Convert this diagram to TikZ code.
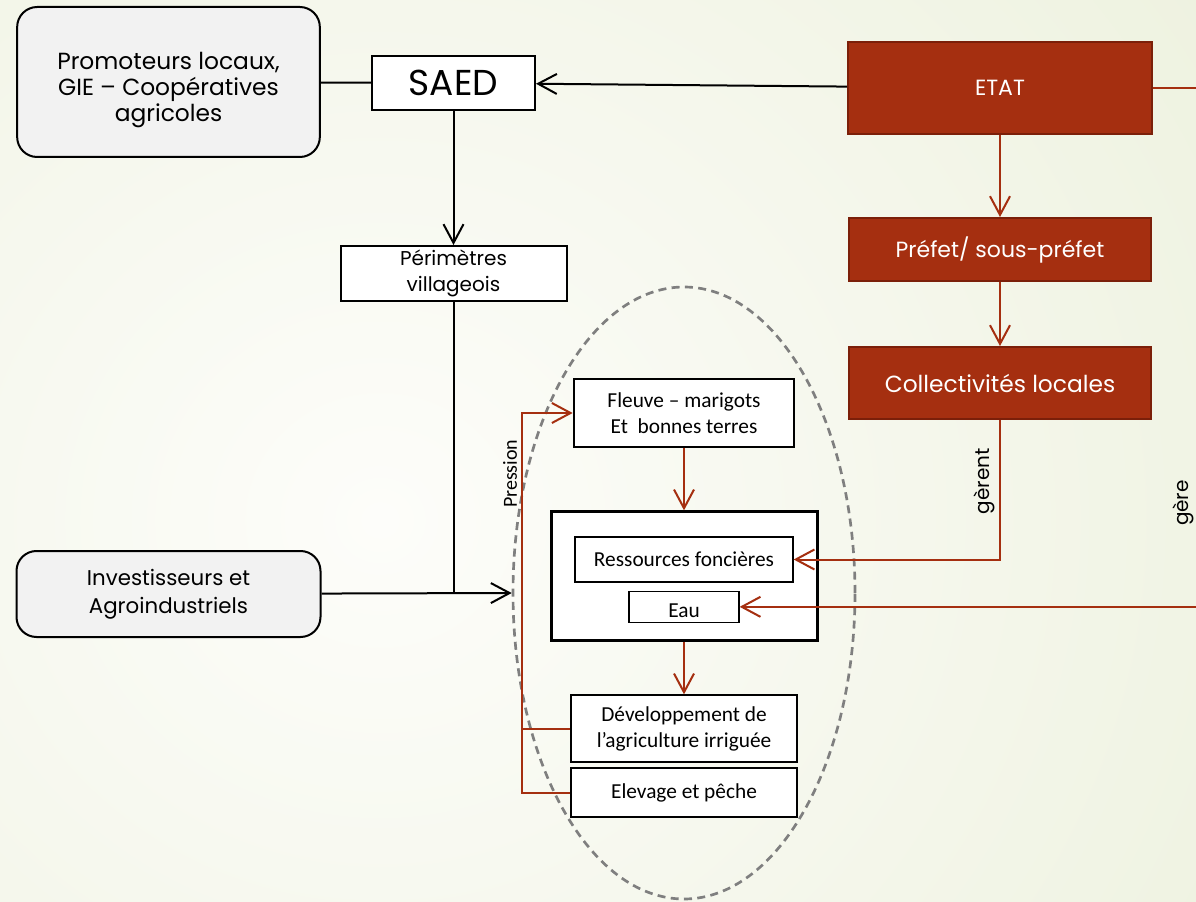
\documentclass[tikz,border=0pt]{standalone}
\usepackage{fontspec}
\setmainfont{Poppins}
\newfontfamily\calibrifont{Carlito}
\usetikzlibrary{arrows.meta,positioning,shapes.geometric}
\definecolor{rouille}{HTML}{A52F10}
\definecolor{rouillefonce}{HTML}{7B1F09}
\definecolor{fondclair}{HTML}{FDFDFA}
\definecolor{fondvert}{HTML}{E2E9CB}
\definecolor{grisboite}{HTML}{F2F2F2}
\definecolor{tirets}{HTML}{7F7F7F}

\begin{document}
\begin{tikzpicture}[x=0.75pt, y=-0.75pt,
  >={Straight Barb[length=14pt,width=15pt]},
  acteur/.style = {draw, rounded corners=15pt, fill=grisboite, line width=1.5pt, align=center},
  simple/.style = {draw, fill=white, line width=1.5pt, align=center, inner sep=0pt},
  etat/.style = {draw=rouillefonce, fill=rouille, line width=1.5pt, text=white, inner sep=0pt},
  ress/.style = {draw, fill=white, line width=1pt, align=center, inner sep=0pt, font=\calibrifont\fontsize{16}{19.5}\selectfont},
  lien/.style = {line width=1.5pt},
  lienrouge/.style = {line width=1.5pt, draw=rouille},
  etiquette/.style = {rotate=90, anchor=south, inner sep=3pt, text=black}]
  \useasboundingbox (0,0) rectangle (1196,902);
  \clip (0,0) rectangle (1196,902);
  \shade[inner color=fondclair, outer color=fondvert] (-1420,-1180) rectangle (2180,2220);

  % acteurs de gauche
  \node[acteur, minimum width=227pt, minimum height=112.5pt, font=\fontsize{17.5}{19.5}\selectfont] (promo) at (168.5,82) {\rule{0pt}{25pt}Promoteurs locaux,\\GIE – Coopératives\\agricoles};
  \node[simple, minimum width=122.25pt, minimum height=40.5pt, font=\fontsize{27}{30}\selectfont] (saed) at (453.5,83) {SAED};
  \node[simple, minimum width=169.5pt, minimum height=41.25pt, font=\fontsize{15}{19.5}\selectfont, below=100.5pt of saed] (peri) {Périmètres\\villageois};
  \node[acteur, minimum width=228pt, minimum height=64.5pt, font=\fontsize{16}{21}\selectfont] (inves) at (168.5,594) {Investisseurs et\\Agroindustriels};

  % Etat
  \node[etat, minimum width=228pt, minimum height=69pt, font=\fontsize{16.5}{18}\selectfont] (etat) at (1000,88) {ETAT};
  \node[etat, minimum width=227pt, minimum height=47.25pt, font=\fontsize{16.5}{20}\selectfont, below=61.5pt of etat] (prefet) {Préfet/ sous-préfet};
  \node[etat, minimum width=227pt, minimum height=54pt, font=\fontsize{17.5}{20}\selectfont, below=48pt of prefet] (collect) {Collectivités locales};

  % ressources
  \node[draw=tirets, dashed, dash pattern=on 6pt off 4pt, line width=2pt, ellipse, minimum width=256.5pt, minimum height=459pt, inner sep=0pt] (zone) at (684,593) {};
  \node[ress, line width=2pt, minimum width=165pt, minimum height=51pt] (fleuve) at (684,413) {Fleuve – marigots\\Et\ \ bonnes terres};
  \node[draw, fill=white, line width=2.25pt, minimum width=199.5pt, minimum height=96.75pt, below=46.5pt of fleuve] (grand) {};
  \node[ress, minimum width=163.5pt, minimum height=33.75pt, below=19.5pt of grand.north] (foncier) {Ressources foncières};
  \node[ress, minimum width=82.5pt, minimum height=23.25pt, text height=15.75pt, text depth=0pt, below=6pt of foncier] (eau) {Eau};
  \node[ress, line width=1.5pt, minimum width=169.5pt, minimum height=50.25pt, below=39pt of grand] (dev) {Développement de\\l’agriculture irriguée};
  \node[ress, line width=1.5pt, minimum width=169.5pt, minimum height=36.75pt, below=3pt of dev] (elev) {Elevage et pêche};

  \coordinate (pivot) at (522,0);
  \coordinate (bord) at (1199,88);

  \draw[lien] (promo) -- (saed);
  \draw[lien, ->] (etat) -- (saed);
  \draw[lien, ->] (saed) -- (peri);
  \draw[lien] (peri) -- (peri |- inves);
  \draw[lien, ->] (inves) -- (zone.west);

  \draw[lienrouge, ->] (etat) -- (prefet);
  \draw[lienrouge, ->] (prefet) -- (collect);
  \draw[lienrouge, ->] (collect.south) |- node[etiquette, pos=0.22, font=\fontsize{15}{18}\selectfont] {gèrent} (foncier.east);
  \draw[lienrouge, ->] (etat) -- (bord) |- node[etiquette, pos=0.4, font=\fontsize{15}{18}\selectfont] {gère} (eau.east);
  \draw[lienrouge, ->] (fleuve) -- (grand);
  \draw[lienrouge, ->] (grand) -- (dev);
  \draw[lienrouge, ->] (elev.west) -- (elev.west -| pivot) |- node[etiquette, pos=0.42, font=\calibrifont\fontsize{15}{18}\selectfont] {Pression} (fleuve.west);
  \draw[lienrouge] (dev.west) -- (dev.west -| pivot);
\end{tikzpicture}
\end{document}
